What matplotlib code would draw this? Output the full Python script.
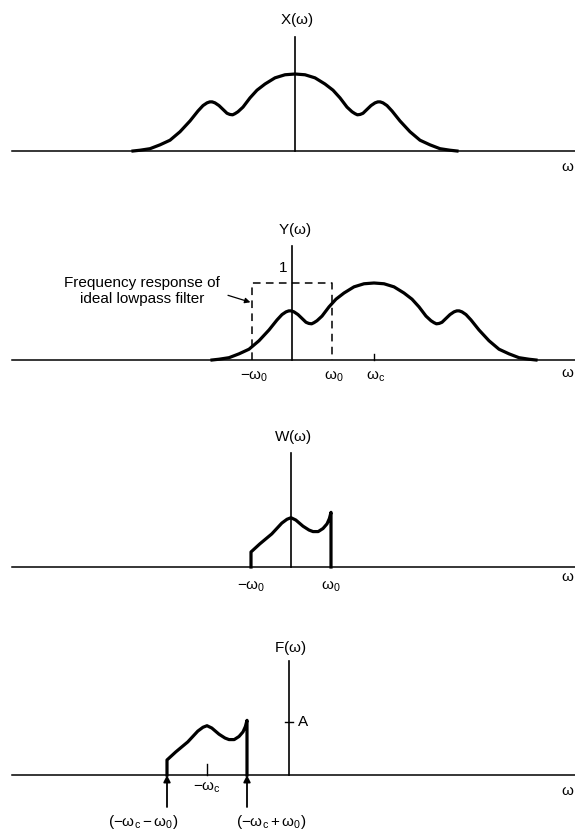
import numpy as np
import matplotlib.pyplot as plt

plt.rcParams['font.family'] = ['Liberation Sans', 'DejaVu Sans']
plt.rcParams['mathtext.fontset'] = 'custom'
plt.rcParams['mathtext.rm'] = 'Liberation Sans'
plt.rcParams['mathtext.it'] = 'Liberation Sans:italic'
plt.rcParams['mathtext.default'] = 'regular'

# frequencies in units of w0, amplitudes relative to the peak of X
w0 = 1.0
wc = 2.05
amp_A = 0.69

# X(w), one side (symmetric)
x_half_w = [0.0, 0.25, 0.5, 0.75, 0.95, 1.125, 1.3, 1.425, 1.5, 1.56, 1.63, 1.7,
            1.8, 1.9, 2.0, 2.07, 2.13, 2.2, 2.3, 2.425, 2.625, 2.875, 3.125,
            3.375, 3.625, 3.875, 4.05]
x_half_amp = [1.0, 0.99, 0.95, 0.87, 0.79, 0.69, 0.57, 0.51, 0.485, 0.47, 0.475, 0.49,
              0.54, 0.59, 0.625, 0.638, 0.638, 0.625, 0.59, 0.52, 0.39, 0.25, 0.14,
              0.08, 0.03, 0.01, 0.0]

# W(w) = lowpass part of Y, between -w0 and w0
w_band_w = [-1.0, -0.78, -0.48, -0.23, -0.1, 0.0, 0.12, 0.3, 0.45, 0.55, 0.68, 0.8,
            0.9, 0.96, 1.0]
w_band_amp = [0.195, 0.30, 0.43, 0.57, 0.62, 0.64, 0.61, 0.53, 0.48, 0.46, 0.46, 0.5,
              0.56, 0.63, 0.71]

x_w = np.r_[-np.array(x_half_w[::-1]), np.array(x_half_w[1:])]
x_amp = np.r_[x_half_amp[::-1], x_half_amp[1:]]
y_w = x_w + wc
w_w = np.r_[-w0, w_band_w, w0]
w_amp = np.r_[0, w_band_amp, 0]
f_w = w_w - wc

W, H, DPI = 575, 832, 100
PX = 40.0   # pixels per w0
PY = 77.0   # pixels per unit amplitude
FS = 11
fig = plt.figure(figsize=(W / DPI, H / DPI), dpi=DPI)

LW_CURVE = 2.3
LW_AXIS = 1.1


def panel(base, center, wlabel_off):
    below, above = 60, 140
    ax = fig.add_axes([0, 1 - (base + below) / H, 1, (below + above) / H])
    ax.set_xlim(-center / PX, (W - center) / PX)
    ax.set_ylim(-below / PY, above / PY)
    ax.axis('off')
    ax.plot([(12 - center) / PX, (W - center) / PX], [0, 0], color='black', lw=LW_AXIS)
    ax.plot([0, 0], [0, 1.48], color='black', lw=1.2)
    ax.text((568 - center) / PX, -wlabel_off / PY, r'$\omega$', ha='center', va='center',
            fontsize=FS)
    return ax


# X(w)
ax1 = panel(151, 295, 16)
ax1.plot(x_w, x_amp, color='black', lw=LW_CURVE, solid_joinstyle='round')
ax1.text(0.03, 131 / PY, r'X($\omega$)', ha='center', va='center', fontsize=FS)

# Y(w) with the ideal lowpass filter
ax2 = panel(360, 292, 13)
ax2.plot(y_w, x_amp, color='black', lw=LW_CURVE, solid_joinstyle='round')
ax2.plot([-w0, -w0, w0, w0], [0, 1, 1, 0], color='black', lw=1.1, dashes=(5, 3.5))
ax2.plot([wc, wc], [0, 0.08], color='black', lw=1.0)
ax2.text(0.07, 130 / PY, r'Y($\omega$)', ha='center', va='center', fontsize=FS)
ax2.text(-0.22, 1.19, '1', ha='center', va='center', fontsize=FS)
ax2.text(-3.75, 0.9, 'Frequency response of\nideal lowpass filter', ha='center',
         va='center', fontsize=FS, linespacing=1.2)
ax2.annotate('', xy=(-1.04, 0.75), xytext=(-1.6, 0.84),
             arrowprops=dict(arrowstyle='-|>', color='black', lw=0.9,
                             mutation_scale=8, shrinkA=0, shrinkB=0))
for pos, lab in [(-w0, r'$-\omega_0$'), (w0, r'$\omega_0$'), (wc, r'$\omega_c$')]:
    ax2.text(pos + 0.05, -17 / PY, lab, ha='center', va='center', fontsize=FS)

# W(w)
ax3 = panel(567, 291, 10)
ax3.plot(w_w, w_amp, color='black', lw=LW_CURVE, solid_joinstyle='round')
ax3.text(0.05, 130 / PY, r'W($\omega$)', ha='center', va='center', fontsize=FS)
for pos, lab in [(-w0, r'$-\omega_0$'), (w0, r'$\omega_0$')]:
    ax3.text(pos, -20 / PY, lab, ha='center', va='center', fontsize=FS)

# F(w)
ax4 = panel(775, 289, 16)
ax4.plot(f_w, w_amp, color='black', lw=LW_CURVE, solid_joinstyle='round')
ax4.plot([-wc, -wc], [0, 0.14], color='black', lw=1.0)
ax4.plot([-0.1, 0.1], [amp_A, amp_A], color='black', lw=1.0)
ax4.text(0.02, 127 / PY, r'F($\omega$)', ha='center', va='center', fontsize=FS)
ax4.text(0.22, amp_A, 'A', ha='left', va='center', fontsize=FS)
ax4.text(-wc, -13 / PY, r'$-\omega_c$', ha='center', va='center', fontsize=FS)
for pos in [-wc - w0, -wc + w0]:
    ax4.annotate('', xy=(pos, 0), xytext=(pos, -32 / PY),
                 arrowprops=dict(arrowstyle='-|>', color='black', lw=1.3,
                                 mutation_scale=10, shrinkA=0, shrinkB=0))
ax4.text(-wc - w0 - 0.6, -47 / PY, r'$(-\omega_c - \omega_0)$', ha='center', va='center',
         fontsize=FS)
ax4.text(-wc + w0 + 0.6, -47 / PY, r'$(-\omega_c + \omega_0)$', ha='center', va='center',
         fontsize=FS)

fig.savefig('out.png', dpi=DPI, facecolor='white')
